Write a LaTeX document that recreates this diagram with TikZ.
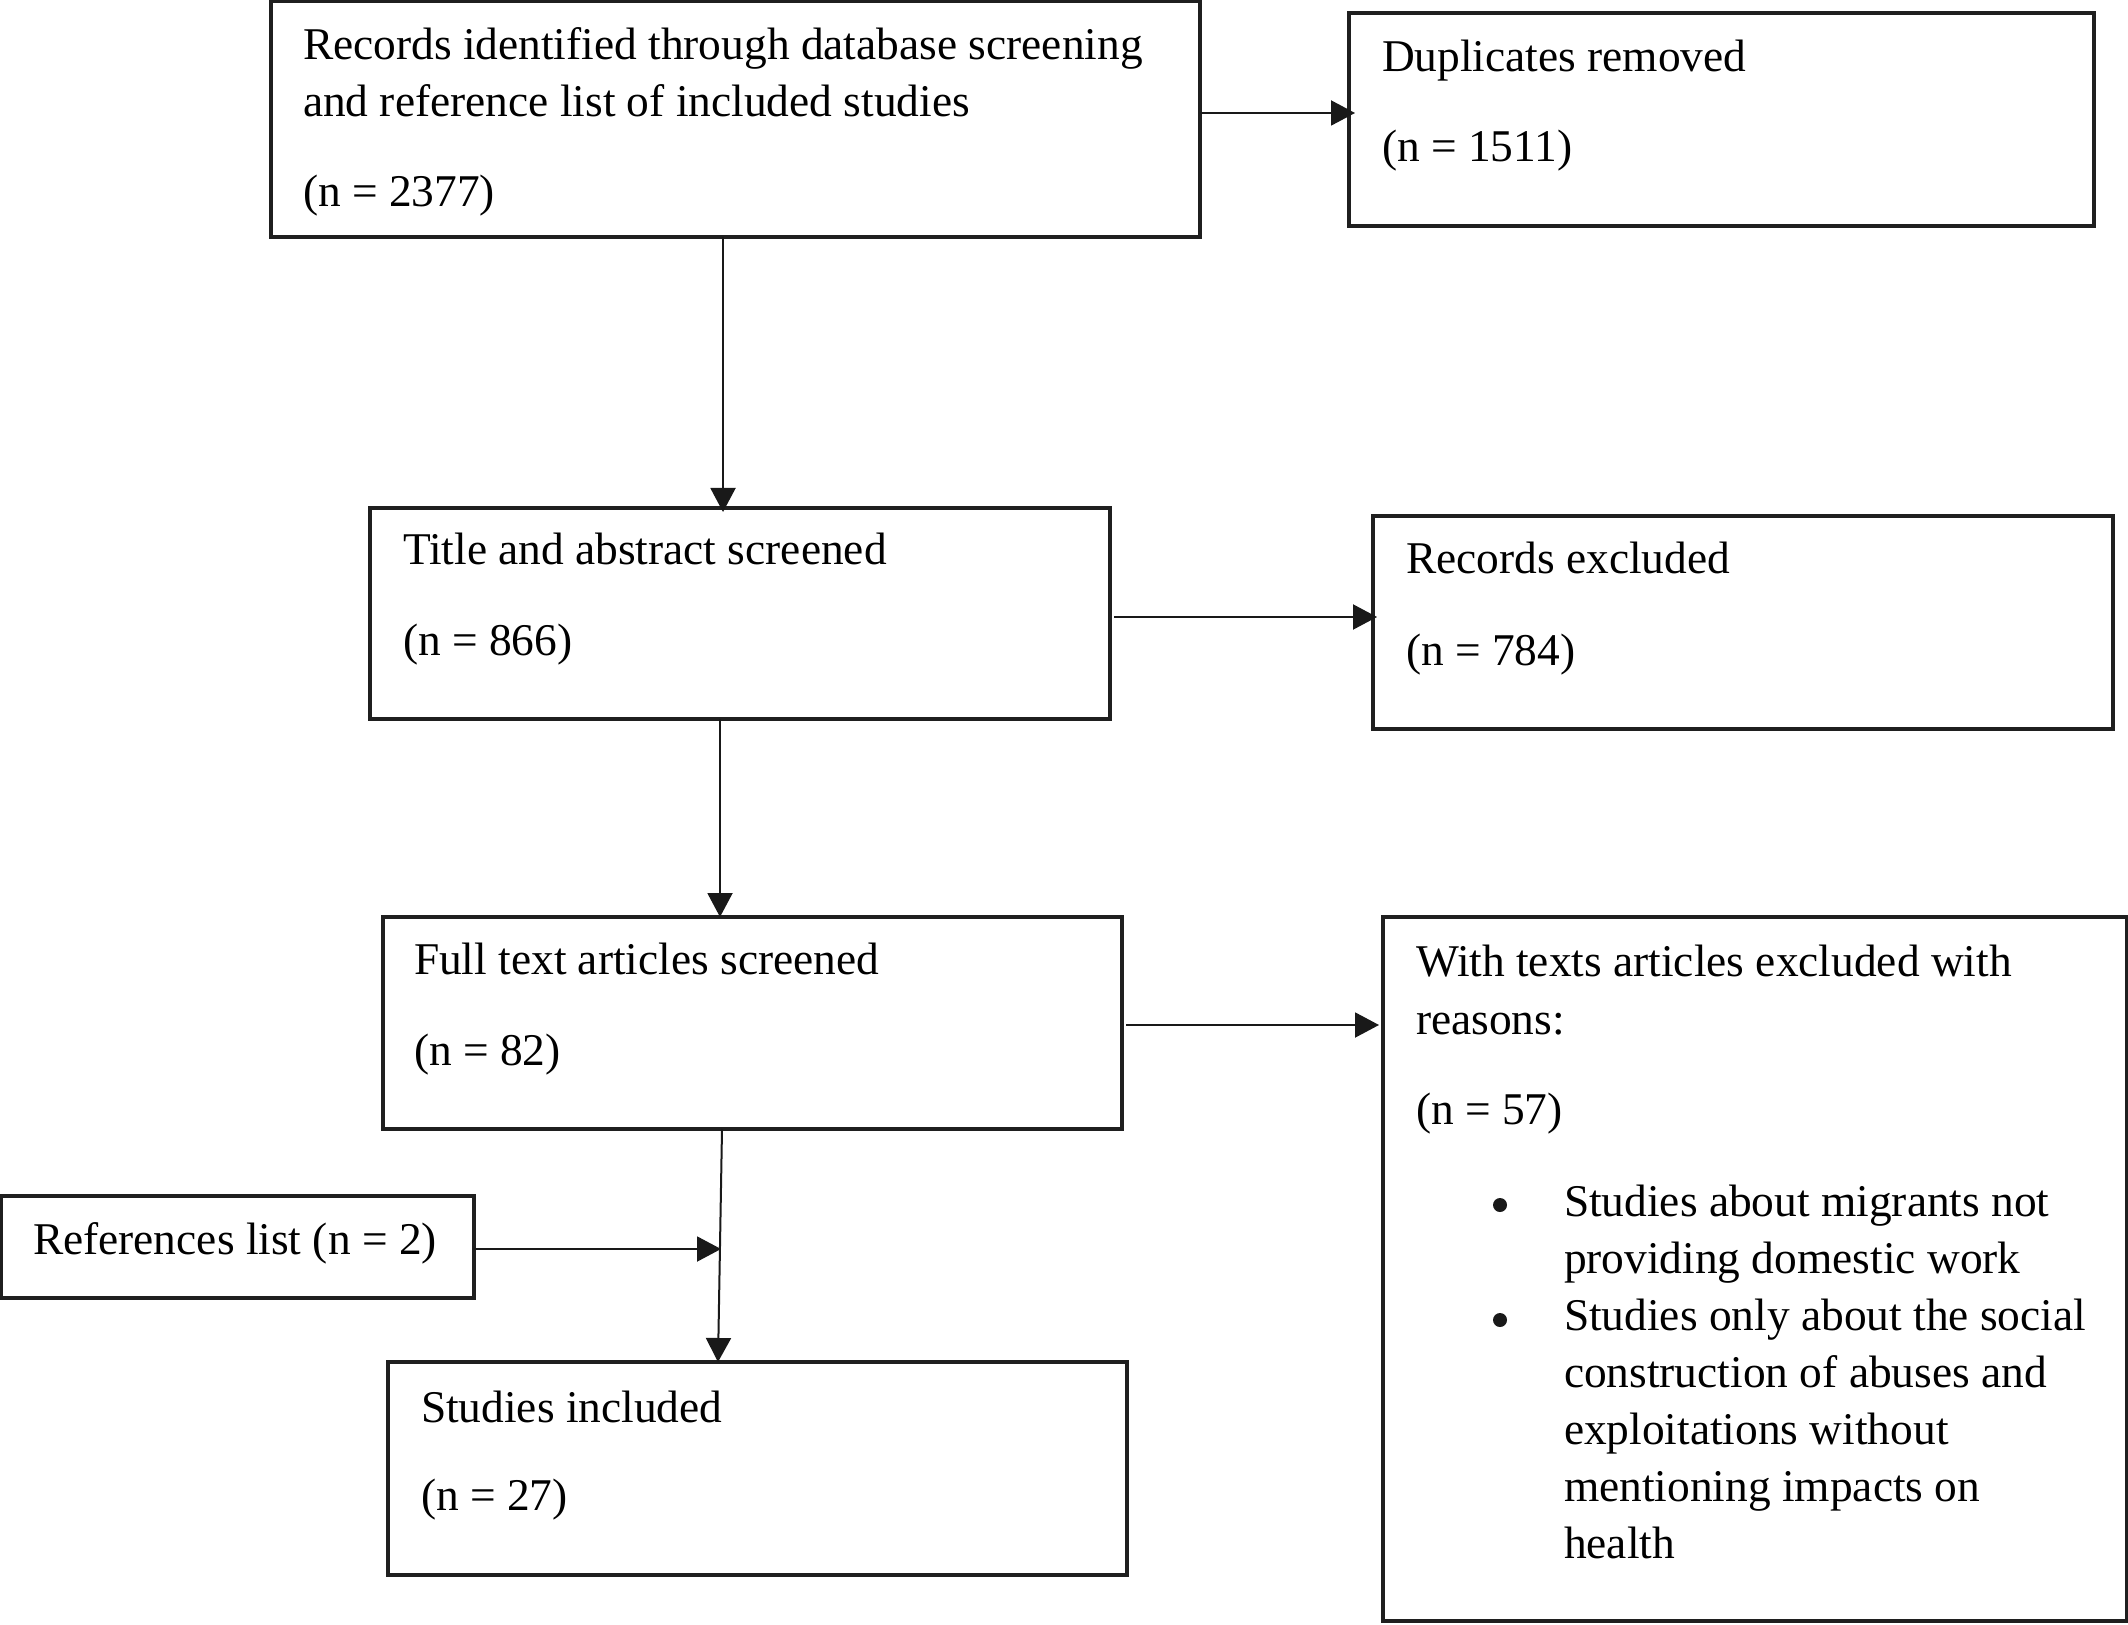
\documentclass[tikz,border=0pt]{standalone}
\usepackage{fontspec}
\setmainfont{Liberation Serif}
\usetikzlibrary{arrows.meta}
\begin{document}
\begin{tikzpicture}[x=0.5pt,y=-0.5pt,
 box/.style={draw=black!88, line width=1.6pt, inner sep=0pt, outer sep=0pt, anchor=north west},
 txt/.style={inner sep=0pt, outer sep=0pt, anchor=base west, font=\fontsize{22.7}{28.5}\selectfont},
 arr/.style={draw=black!90, line width=1pt, -{Triangle[length=12pt,width=12.5pt]}},
 dot/.style={circle, fill=black!90, inner sep=0pt, minimum size=7pt}]
\useasboundingbox (0,0) rectangle (2128,1625);
% boxes
\node[box, minimum width=464.5pt, minimum height=118pt] (b1) at (271,1) {};
\node[box, minimum width=372.5pt, minimum height=106.5pt] (dup) at (1349,13) {};
\node[box, minimum width=370pt, minimum height=105.5pt] (b2) at (370,508) {};
\node[box, minimum width=370pt, minimum height=106.5pt] (exc) at (1373,516) {};
\node[box, minimum width=369.5pt, minimum height=106pt] (b3) at (383,917) {};
\node[box, minimum width=372pt, minimum height=352pt] (wt) at (1383,917) {};
\node[box, minimum width=236.5pt, minimum height=51pt] (refs) at (1,1196) {};
\node[box, minimum width=369.5pt, minimum height=106.5pt] (st) at (388,1362) {};
% texts
\node[txt] (t1a) at (303,60) {Records identified through database screening};
\node[txt] (t1b) at (303,117) {and reference list of included studies};
\node[txt] (t1c) at (303,207) {(n = 2377)};
\node[txt] (tda) at (1382,72) {Duplicates removed};
\node[txt] (tdb) at (1382,162) {(n = 1511)};
\node[txt] (t2a) at (403,565) {Title and abstract screened};
\node[txt] (t2b) at (403,655) {(n = 866)};
\node[txt] (tea) at (1406,574) {Records excluded};
\node[txt] (teb) at (1406,665) {(n = 784)};
\node[txt] (t3a) at (414,974) {Full text articles screened};
\node[txt] (t3b) at (414,1065) {(n = 82)};
\node[txt] (twa) at (1416,976) {With texts articles excluded with};
\node[txt] (twb) at (1416,1034) {reasons:};
\node[txt] (twc) at (1416,1124) {(n = 57)};
\node[dot] (d1) at (1500,1205) {};
\node[txt] (tw1) at (1564,1216) {Studies about migrants not};
\node[txt] (tw2) at (1564,1273) {providing domestic work};
\node[dot] (d2) at (1500,1320) {};
\node[txt] (tw3) at (1564,1330) {Studies only about the social};
\node[txt] (tw4) at (1564,1387) {construction of abuses and};
\node[txt] (tw5) at (1564,1444) {exploitations without};
\node[txt] (tw6) at (1564,1501) {mentioning impacts on};
\node[txt] (tw7) at (1564,1558) {health};
\node[txt] (tra) at (33,1254) {References list (n = 2)};
\node[txt] (tsa) at (421,1422) {Studies included};
\node[txt] (tsb) at (421,1510) {(n = 27)};
% helper coordinates
\coordinate (ya) at (0,113);
\coordinate (yb) at (0,617);
\coordinate (yc) at (0,1025);
\coordinate (xa) at (723,0);
\coordinate (xb) at (720,0);
\coordinate (xc) at (722,0);
\coordinate (xd) at (718,0);
\coordinate (m) at (721,1249);
% connectors
\draw[arr, shorten >=-3pt] (b1.east |- ya) -- (dup.west |- ya);
\draw[arr, shorten >=-2pt] (b1.south -| xa) -- (b2.north -| xa);
\draw[arr, shorten <=2pt, shorten >=-2pt] (b2.east |- yb) -- (exc.west |- yb);
\draw[arr] (b2.south -| xb) -- (b3.north -| xb);
\draw[arr, shorten <=2pt, shorten >=2pt] (b3.east |- yc) -- (wt.west |- yc);
\draw[arr] (b3.south -| xc) -- (st.north -| xd);
\draw[arr] (refs.east |- m) -- (m);
\end{tikzpicture}
\end{document}
